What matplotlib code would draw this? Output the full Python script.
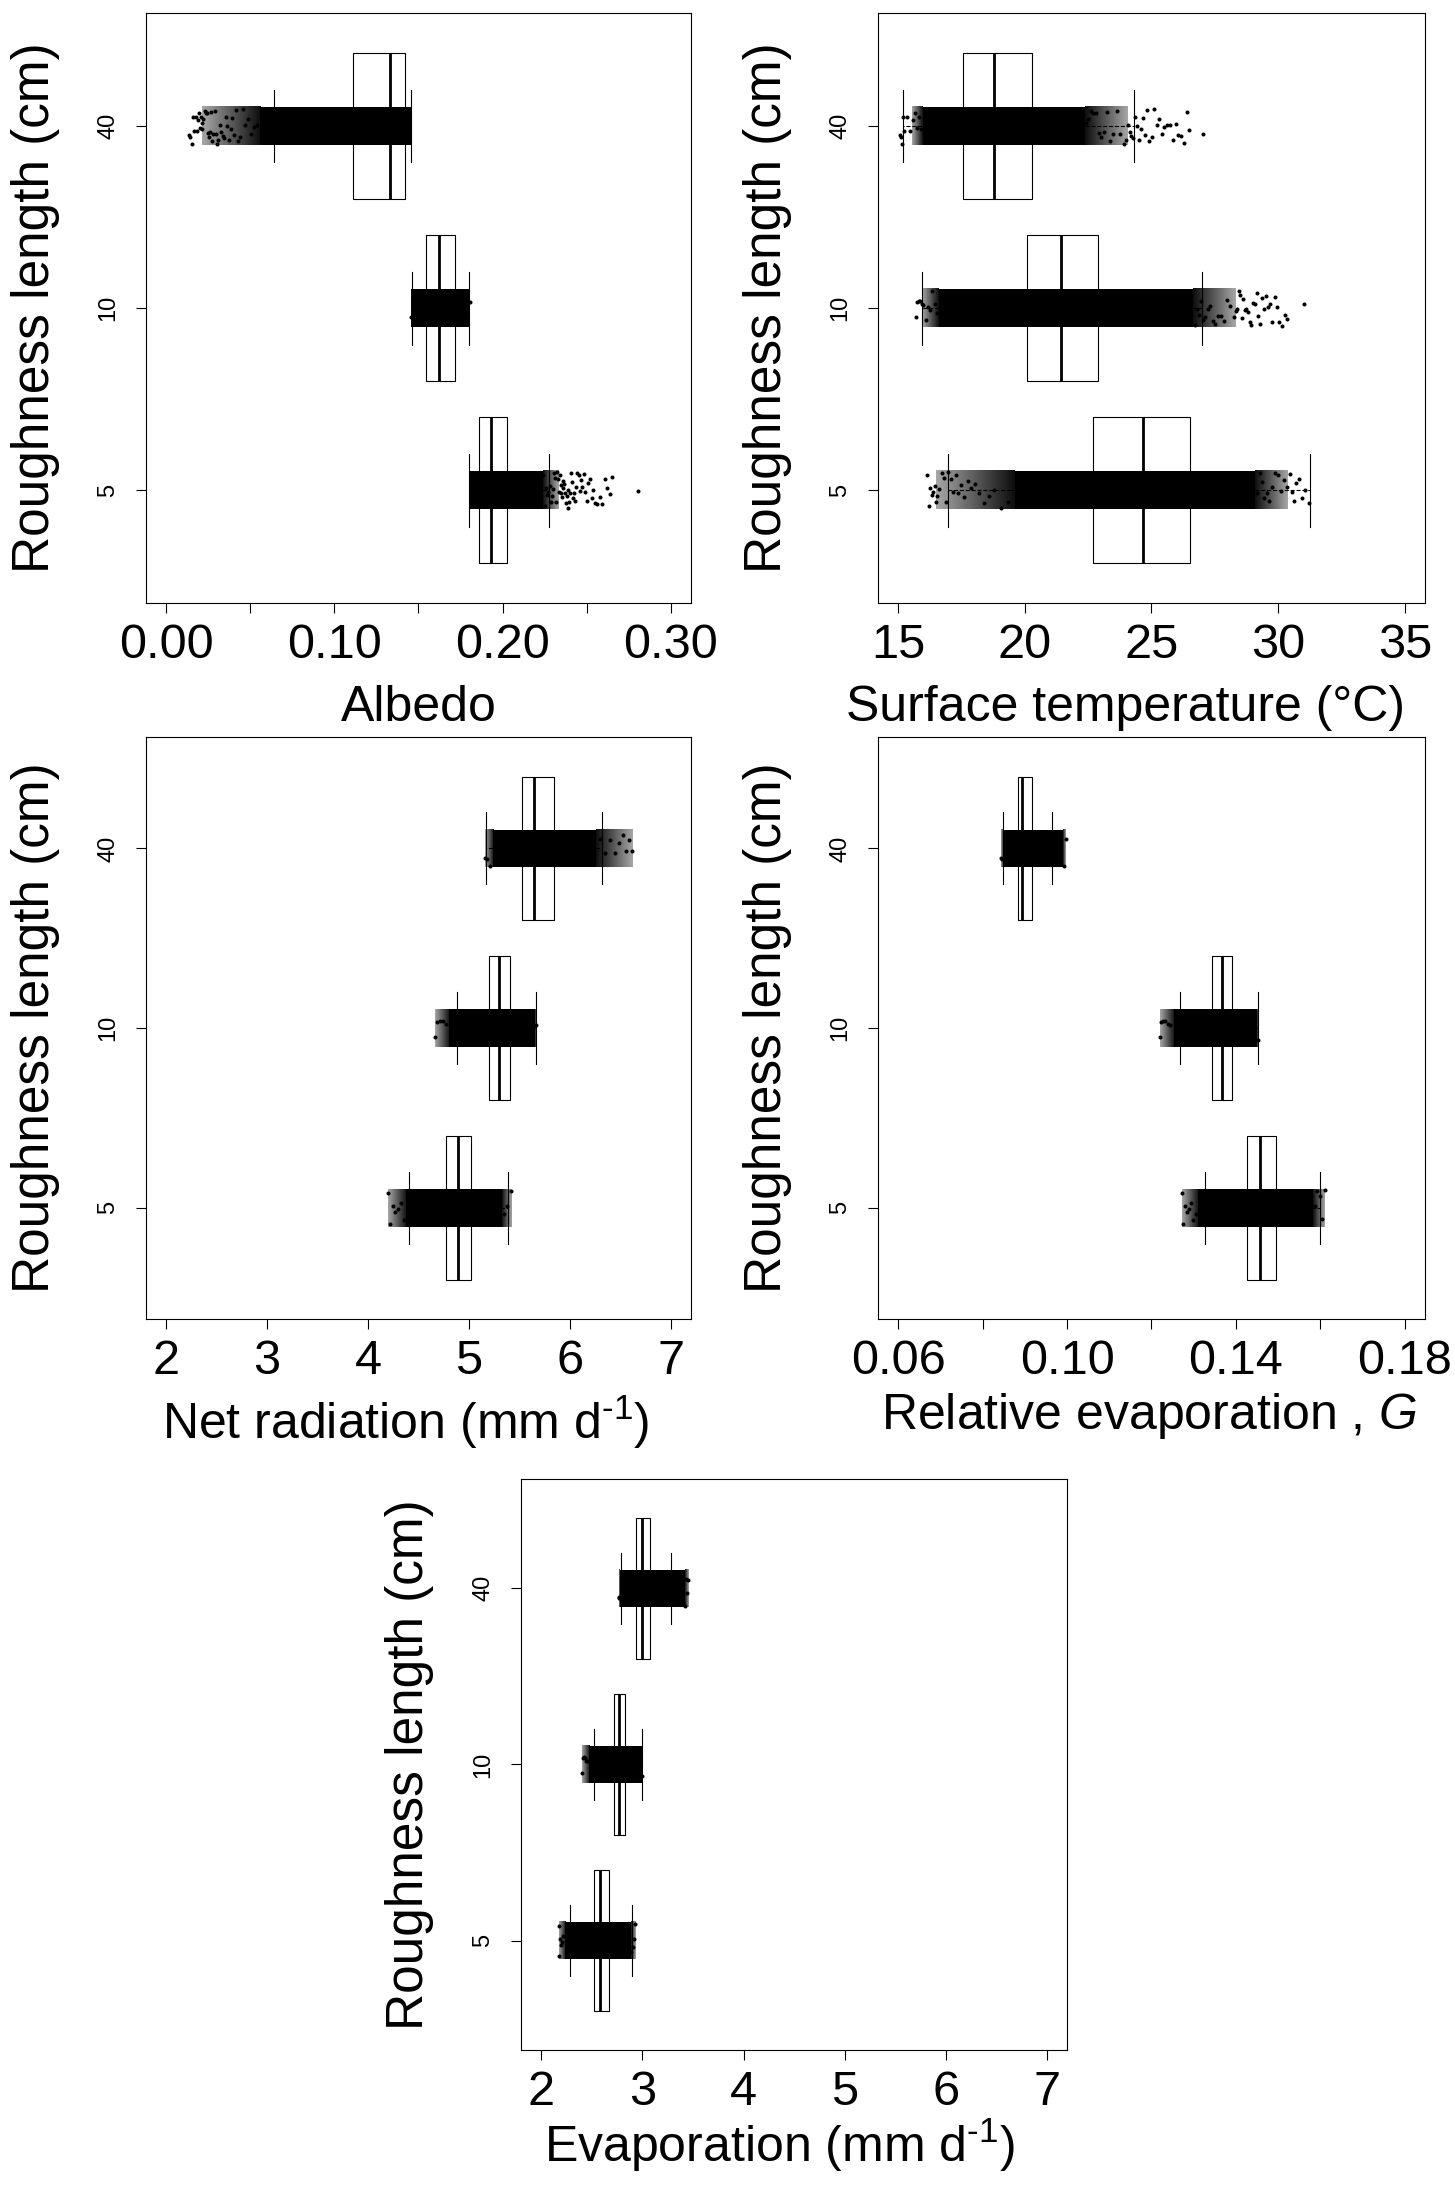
import numpy as np
import matplotlib.pyplot as plt

plt.rcParams['font.family'] = ['Liberation Sans', 'DejaVu Sans']
plt.rcParams['mathtext.fontset'] = 'custom'
plt.rcParams['mathtext.rm'] = 'Liberation Sans'
plt.rcParams['mathtext.it'] = 'Liberation Sans:italic'

groups = ['5', '10', '40']

# ---- Albedo ----  (groups 5, 10, 40)
alb_lo = [0.1803, 0.1464, 0.0643]
alb_q1 = [0.1859, 0.1547, 0.1113]
alb_med = [0.1932, 0.1620, 0.1328]
alb_q3 = [0.2029, 0.1717, 0.1422]
alb_hi = [0.2277, 0.1798, 0.1456]
# extent of the point cloud: outer fringe / solid core / outer fringe
alb_edge_lo = [0.1798, 0.1458, 0.0213]
alb_core_lo = [0.1798, 0.1458, 0.0560]
alb_core_hi = [0.2240, 0.1806, 0.1460]
alb_edge_hi = [0.2333, 0.1806, 0.1460]
alb_tail5 = [0.2243, 0.2251, 0.2258, 0.2266, 0.2271, 0.2279, 0.2286, 0.2292, 0.2299, 0.2305,
             0.2311, 0.2318, 0.2324, 0.2329, 0.2336, 0.2341, 0.2345, 0.2349, 0.2353, 0.2358,
             0.2362, 0.2367, 0.2371, 0.2376, 0.2381, 0.2386, 0.2391, 0.2396, 0.2402, 0.2407,
             0.2413, 0.2419, 0.2425, 0.2431, 0.2438, 0.2445, 0.2452, 0.2459, 0.2466, 0.2474,
             0.2482, 0.2491, 0.2500, 0.2509, 0.2519, 0.2529, 0.2540, 0.2552, 0.2564, 0.2577,
             0.2591, 0.2606, 0.2622, 0.2638, 0.2653, 0.2803]
alb_tail10 = [0.1455, 0.1809]
alb_tail40 = [0.0134, 0.0141, 0.0152, 0.0158, 0.0166, 0.0175, 0.0181, 0.0189, 0.0196, 0.0202,
              0.0207, 0.0211, 0.0216, 0.0222, 0.0229, 0.0235, 0.0241, 0.0248, 0.0255, 0.0261,
              0.0268, 0.0274, 0.0281, 0.0289, 0.0296, 0.0304, 0.0311, 0.0319, 0.0327, 0.0336,
              0.0345, 0.0354, 0.0363, 0.0373, 0.0383, 0.0394, 0.0405, 0.0417, 0.0429, 0.0442,
              0.0456, 0.0471, 0.0487, 0.0503, 0.0521, 0.0540]

# ---- Surface temperature ----
ts_lo = [16.97, 15.95, 15.17]
ts_q1 = [22.69, 20.08, 17.55]
ts_med = [24.68, 21.44, 18.78]
ts_q3 = [26.51, 22.88, 20.27]
ts_hi = [31.24, 26.99, 24.29]
ts_edge_lo = [16.50, 15.95, 15.55]
ts_core_lo = [19.60, 16.60, 15.97]
ts_core_hi = [29.10, 26.64, 22.36]
ts_edge_hi = [30.40, 28.30, 24.03]
ts_tail5 = [16.14, 16.20, 16.27, 16.33, 16.38, 16.44, 16.49, 16.55, 16.63, 16.72, 16.80, 16.89,
            16.98, 17.08, 17.17, 17.27, 17.38, 17.49, 17.61, 17.74, 17.88, 18.03, 18.20, 18.38,
            18.58, 18.80, 19.05, 19.32,
            29.18, 29.27, 29.36, 29.45, 29.55, 29.65, 29.76, 29.87, 29.98, 30.10, 30.22, 30.34,
            30.45, 30.53, 30.62, 30.71, 30.82, 30.95, 31.08, 31.21]
ts_tail10 = [15.70, 15.76, 15.82, 15.88, 15.93, 15.99, 16.08, 16.17, 16.26, 16.35, 16.45, 16.53,
             26.70, 26.78, 26.86, 26.95, 27.04, 27.13, 27.22, 27.32, 27.42, 27.52, 27.63, 27.74,
             27.86, 27.98, 28.11, 28.24, 28.33, 28.39, 28.45, 28.51, 28.57, 28.63, 28.69, 28.75,
             28.81, 28.88, 28.94, 29.01, 29.08, 29.15, 29.22, 29.29, 29.36, 29.44, 29.52, 29.60,
             29.68, 29.77, 29.86, 29.95, 30.05, 30.16, 30.27, 30.37, 31.02]
ts_tail40 = [15.08, 15.12, 15.15, 15.18, 15.22, 15.35, 15.46, 15.58, 15.66, 15.74, 15.82, 15.90,
             22.42, 22.51, 22.60, 22.70, 22.80, 22.91, 23.02, 23.13, 23.25, 23.37, 23.50, 23.63,
             23.77, 23.91, 24.01, 24.08, 24.14, 24.21, 24.28, 24.35, 24.42, 24.50, 24.58, 24.66,
             24.74, 24.83, 24.92, 25.01, 25.10, 25.20, 25.30, 25.40, 25.51, 25.62, 25.73, 25.84,
             25.95, 26.06, 26.17, 26.28, 26.39, 26.50, 27.03]

# ---- Net radiation ----
rn_lo = [4.410, 4.883, 5.171]
rn_q1 = [4.772, 5.199, 5.528]
rn_med = [4.892, 5.301, 5.649]
rn_q3 = [5.022, 5.403, 5.844]
rn_hi = [5.384, 5.663, 6.322]
rn_edge_lo = [4.20, 4.66, 5.16]
rn_core_lo = [4.38, 4.80, 5.24]
rn_core_hi = [5.33, 5.65, 6.26]
rn_edge_hi = [5.42, 5.66, 6.62]
rn_tail5 = [4.20, 4.22, 4.25, 4.27, 4.30, 4.33, 4.36, 5.35, 5.38, 5.42]
rn_tail10 = [4.66, 4.68, 4.71, 4.74, 4.77, 5.66]
rn_tail40 = [5.16, 5.18, 5.21, 6.30, 6.35, 6.40, 6.45, 6.49, 6.53, 6.56, 6.59, 6.62]

# ---- Relative evaporation G ----
g_lo = [0.1326, 0.1268, 0.0848]
g_q1 = [0.1427, 0.1343, 0.0884]
g_med = [0.1456, 0.1366, 0.0894]
g_q3 = [0.1496, 0.1390, 0.0916]
g_hi = [0.1599, 0.1452, 0.0964]
g_edge_lo = [0.1272, 0.1219, 0.0844]
g_core_lo = [0.1311, 0.1253, 0.0849]
g_core_hi = [0.1583, 0.1450, 0.0990]
g_edge_hi = [0.1611, 0.1453, 0.0997]
g_tail5 = [0.1272, 0.1275, 0.1279, 0.1283, 0.1288, 0.1293, 0.1299, 0.1305,
           0.1587, 0.1593, 0.1599, 0.1605, 0.1611]
g_tail10 = [0.1219, 0.1223, 0.1228, 0.1233, 0.1239, 0.1245, 0.1453]
g_tail40 = [0.0844, 0.0846, 0.0993, 0.0997]

# ---- Evaporation ----
ev_lo = [2.284, 2.526, 2.791]
ev_q1 = [2.517, 2.717, 2.940]
ev_med = [2.582, 2.768, 2.992]
ev_q3 = [2.670, 2.833, 3.080]
ev_hi = [2.894, 2.992, 3.285]
ev_edge_lo = [2.172, 2.405, 2.768]
ev_core_lo = [2.233, 2.475, 2.777]
ev_core_hi = [2.885, 2.992, 3.420]
ev_edge_hi = [2.931, 3.000, 3.452]
ev_tail5 = [2.172, 2.178, 2.186, 2.195, 2.205, 2.215, 2.890, 2.905, 2.918, 2.931]
ev_tail10 = [2.405, 2.412, 2.421, 2.432, 2.445, 2.458, 2.997]
ev_tail40 = [2.768, 2.772, 3.425, 3.433, 3.441, 3.452]

BAND = 0.21  # jitter band height (R stripchart jitter=0.1 plus dot size)


def fringe(ax, x0, x1, y, inward_right):
    # thinning edge of the point cloud, darker toward the solid core
    if x1 <= x0:
        return
    a = np.linspace(0.35, 0.95, 64)
    if not inward_right:
        a = a[::-1]
    img = np.zeros((1, 64, 4))
    img[0, :, 3] = a
    ax.imshow(img, extent=(x0, x1, y - BAND / 2, y + BAND / 2), aspect='auto',
              interpolation='bilinear', zorder=3)


def draw_panel(ax, lo, q1, med, q3, hi, edge_lo, core_lo, core_hi, edge_hi, tails, xr,
               ticks, ticklabels, xlabel, xlab_x, xlab_y, ylab_x):
    pos = [1, 2, 3]
    stats = [dict(whislo=lo[i], q1=q1[i], med=med[i], q3=q3[i], whishi=hi[i], fliers=[])
             for i in range(3)]
    ax.bxp(stats, positions=pos, widths=0.8, capwidths=0.4, orientation='horizontal',
           patch_artist=True, showfliers=False,
           boxprops=dict(facecolor='white', edgecolor='black', linewidth=0.8),
           medianprops=dict(color='black', linewidth=2.0, solid_capstyle='butt'),
           whiskerprops=dict(color='black', linewidth=0.8, linestyle='--'),
           capprops=dict(color='black', linewidth=0.8))
    for i in range(3):
        ax.barh(pos[i], core_hi[i] - core_lo[i], left=core_lo[i], height=BAND,
                color='black', linewidth=0, zorder=3)
        fringe(ax, edge_lo[i], core_lo[i], pos[i], True)
        fringe(ax, core_hi[i], edge_hi[i], pos[i], False)
        t = np.asarray(tails[i])
        k = np.arange(len(t)) + 1.0
        off = ((np.sin(k * 12.9898 + i) * 43758.5453) % 1.0 - 0.5) * 0.2
        ax.plot(t, pos[i] + off, 'o', ms=2.9, mew=0, color='black', zorder=4)

    span = xr[1] - xr[0]
    ax.set_xlim(xr[0] - 0.04 * span, xr[1] + 0.04 * span)
    ax.set_ylim(0.38, 3.62)
    ax.set_xticks(ticks)
    ax.set_xticklabels(ticklabels)
    ax.set_yticks(pos)
    ax.set_yticklabels(groups, rotation=90, va='center')
    ax.tick_params(axis='x', length=7.2, width=0.8, labelsize=35, pad=7)
    ax.tick_params(axis='y', length=7.2, width=0.8, labelsize=17, pad=12)
    for s in ax.spines.values():
        s.set_linewidth(0.8)
    ax.set_xlabel(xlabel, fontsize=36, va='baseline')
    ax.xaxis.set_label_coords(xlab_x, xlab_y)
    ax.set_ylabel('Roughness length (cm)', fontsize=37, va='baseline')
    ax.yaxis.set_label_coords(ylab_x, 0.5)


fig = plt.figure(figsize=(14.55, 21.85), dpi=100)

ax1 = fig.add_axes([0.1003, 0.7240, 0.3746, 0.2700])
draw_panel(ax1, alb_lo, alb_q1, alb_med, alb_q3, alb_hi,
           alb_edge_lo, alb_core_lo, alb_core_hi, alb_edge_hi,
           [alb_tail5, alb_tail10, alb_tail40], (0.0, 0.3),
           [0.0, 0.05, 0.1, 0.15, 0.2, 0.25, 0.3],
           ['0.00', '', '0.10', '', '0.20', '', '0.30'],
           'Albedo', 0.5, -0.200, -0.178)

ax2 = fig.add_axes([0.6034, 0.7240, 0.3760, 0.2700])
draw_panel(ax2, ts_lo, ts_q1, ts_med, ts_q3, ts_hi,
           ts_edge_lo, ts_core_lo, ts_core_hi, ts_edge_hi,
           [ts_tail5, ts_tail10, ts_tail40], (15, 35),
           [15, 20, 25, 30, 35], ['15', '20', '25', '30', '35'],
           'Surface temperature (°C)', 0.452, -0.200, -0.177)

ax3 = fig.add_axes([0.1003, 0.3963, 0.3746, 0.2664])
draw_panel(ax3, rn_lo, rn_q1, rn_med, rn_q3, rn_hi,
           rn_edge_lo, rn_core_lo, rn_core_hi, rn_edge_hi,
           [rn_tail5, rn_tail10, rn_tail40], (2, 7),
           [2, 3, 4, 5, 6, 7], ['2', '3', '4', '5', '6', '7'],
           'Net radiation (mm d$^{\\text{-1}}$)', 0.477, -0.206, -0.178)

ax4 = fig.add_axes([0.6034, 0.3963, 0.3760, 0.2664])
draw_panel(ax4, g_lo, g_q1, g_med, g_q3, g_hi,
           g_edge_lo, g_core_lo, g_core_hi, g_edge_hi,
           [g_tail5, g_tail10, g_tail40], (0.06, 0.18),
           [0.06, 0.08, 0.10, 0.12, 0.14, 0.16, 0.18],
           ['0.06', '', '0.10', '', '0.14', '', '0.18'],
           'Relative evaporation , $\\mathit{G}$', 0.495, -0.189, -0.177)

ax5 = fig.add_axes([0.3581, 0.0618, 0.3753, 0.2613])
draw_panel(ax5, ev_lo, ev_q1, ev_med, ev_q3, ev_hi,
           ev_edge_lo, ev_core_lo, ev_core_hi, ev_edge_hi,
           [ev_tail5, ev_tail10, ev_tail40], (2, 7),
           [2, 3, 4, 5, 6, 7], ['2', '3', '4', '5', '6', '7'],
           'Evaporation (mm d$^{\\text{-1}}$)', 0.473, -0.196, -0.179)

fig.savefig('out.png', dpi=100, facecolor='white')
